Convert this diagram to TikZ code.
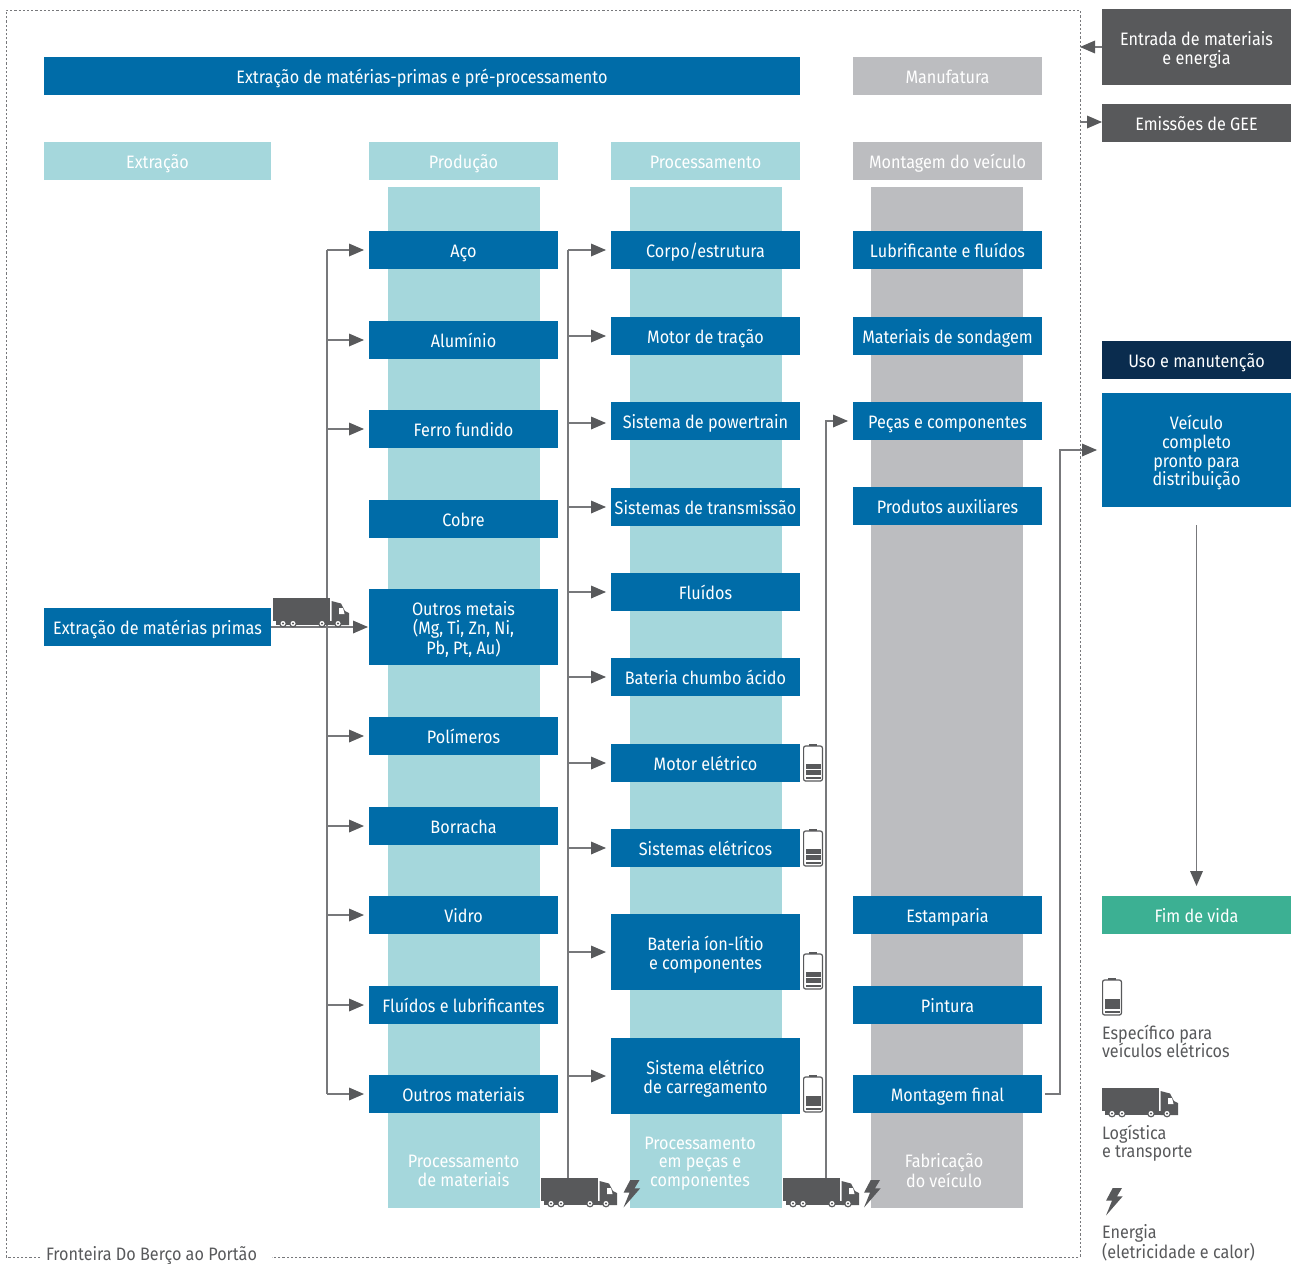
\documentclass[tikz,border=0pt]{standalone}
\usepackage{fontspec}
\setmainfont{Fira Sans}[FakeStretch=0.9]
\usetikzlibrary{arrows.meta}
\definecolor{cblue}{HTML}{006CA8}
\definecolor{cteal}{HTML}{A5D7DC}
\definecolor{cgray}{HTML}{BCBDC0}
\definecolor{cdark}{HTML}{58595B}
\definecolor{cline}{HTML}{77787B}
\definecolor{cnavy}{HTML}{0A2C4E}
\definecolor{cgreen}{HTML}{3CB093}
\tikzset{
  x=1pt,y=-1pt,
  lbl/.style={font=\fontsize{18}{18.7}\selectfont,align=center,inner sep=0pt,outer sep=0pt,text=white},
  blue/.style={lbl,fill=cblue},
  teal/.style={lbl,fill=cteal},
  gray/.style={lbl,fill=cgray},
  dark/.style={lbl,fill=cdark},
  navy/.style={lbl,fill=cnavy},
  green/.style={lbl,fill=cgreen},
  free/.style={lbl},
  legend/.style={lbl,align=left,text=cdark,anchor=north west},
  link/.style={draw=cline,line width=1.2pt},
  tipped/.style={link,-{Triangle[length=15pt,width=13pt,color=cdark,fill=cdark,line width=0pt]}},
  arr/.style={tipped,shorten >=5pt},
  frame/.style={draw=cline,line width=.9pt,dash pattern=on 2.2pt off 2pt},
  pics/truck/.style={code={
    \fill[cdark] (0,0) rectangle (56.5,23);
    \fill[cdark] (58.5,3) -- (68,5.5) -- (72,13) -- (76,15) -- (76,27) -- (58.5,27) -- cycle;
    \fill[white] (66,10) -- (70,10) -- (71.5,16) -- (66,16) -- cycle;
    \fill[cdark] (3,23) rectangle (76,26.5);
    \foreach \wx in {10,20,49,65}{
      \fill[cdark] (\wx,25.5) circle[radius=3.9];
      \fill[white] (\wx,25.5) circle[radius=2.5];
      \fill[cdark] (\wx,25.5) circle[radius=1.2];
    }
  }},
  pics/bolt/.style={code={
    \fill[cdark] (6.7,0) -- (16,0) -- (11,8.3) -- (16.7,8.3) -- (0,27.5) -- (6,12.7) -- (0,12.7) -- cycle;
  }},
  pics/battery/.style={code={
    \fill[cdark] (6,0) rectangle (14,2);
    \draw[cdark,line width=1.2pt,fill=white,rounded corners=2pt] (.6,2) rectangle (19.4,37);
    \fill[cdark] (2.5,21) rectangle (17.5,31);
    \fill[cdark] (2.5,32.8) rectangle (17.5,35);
  }},
  pics/batteryfull/.style={code={
    \fill[cdark] (6,0) rectangle (14,2);
    \draw[cdark,line width=1.2pt,fill=white,rounded corners=2pt] (.6,2) rectangle (19.4,37);
    \fill[cdark] (2.5,20) rectangle (17.5,25);
    \fill[cdark] (2.5,26.2) rectangle (17.5,31);
    \fill[cdark] (2.5,32.5) rectangle (17.5,35);
  }},
}
\newcommand{\stA}{\rule{0pt}{22pt}}
\newcommand{\stB}{\rule[-6.6pt]{0pt}{6.6pt}}
\newcommand{\bx}[7]{\node[#6,minimum width={#4pt-#2pt},minimum height={#5pt-#3pt}] (#1) at ({(#2+#4)/2},{(#3+#5)/2}) {\stA#7\stB};}
\begin{document}
\begin{tikzpicture}
\useasboundingbox (0,0) rectangle (1292,1263);
% frame
\draw[frame] (40,1257) -- (6,1257) -- (6,10) -- (1080,10) -- (1080,1257) -- (272,1257);
\node[lbl,text=cdark,anchor=center] (frontier) at (151.5,1253) {\stA Fronteira Do Berço ao Portão\stB};
% columns
\fill[cteal] (388,187) rectangle (540,1208);
\fill[cteal] (630,187) rectangle (782,1208);
\fill[cgray] (871,187) rectangle (1023,1208);
% headers
\bx{hA}{44}{57}{800}{95}{blue}{Extração de matérias-primas e pré-processamento}
\bx{hB}{853}{57}{1042}{95}{gray}{Manufatura}
\bx{hC}{44}{142}{271}{180}{teal}{Extração}
\bx{hD}{369}{142}{558}{180}{teal}{Produção}
\bx{hE}{611}{142}{800}{180}{teal}{Processamento}
\bx{hF}{853}{142}{1042}{180}{gray}{Montagem do veículo}
% extraction
\bx{ext}{44}{608}{271}{646}{blue}{Extração de matérias primas}
% production
\bx{p1}{369}{231}{558}{269}{blue}{Aço}
\bx{p2}{369}{321}{558}{359}{blue}{Alumínio}
\bx{p3}{369}{410}{558}{448}{blue}{Ferro fundido}
\bx{p4}{369}{500}{558}{538}{blue}{Cobre}
\bx{p5}{369}{589}{558}{665}{blue}{Outros metais\\(Mg, Ti, Zn, Ni,\\Pb, Pt, Au)}
\bx{p6}{369}{717}{558}{755}{blue}{Polímeros}
\bx{p7}{369}{807}{558}{845}{blue}{Borracha}
\bx{p8}{369}{896}{558}{934}{blue}{Vidro}
\bx{p9}{369}{986}{558}{1024}{blue}{Fluídos e lubrificantes}
\bx{p10}{369}{1075}{558}{1113}{blue}{Outros materiais}
% processing
\bx{q1}{611}{231}{800}{269}{blue}{Corpo/estrutura}
\bx{q2}{611}{317}{800}{355}{blue}{Motor de tração}
\bx{q3}{611}{402}{800}{440}{blue}{Sistema de powertrain}
\bx{q4}{611}{488}{800}{526}{blue}{Sistemas de transmissão}
\bx{q5}{611}{573}{800}{611}{blue}{Fluídos}
\bx{q6}{611}{658}{800}{696}{blue}{Bateria chumbo ácido}
\bx{q7}{611}{744}{800}{782}{blue}{Motor elétrico}
\bx{q8}{611}{829}{800}{867}{blue}{Sistemas elétricos}
\bx{q9}{611}{914}{800}{990}{blue}{Bateria íon-lítio\\e componentes}
\bx{q10}{611}{1038}{800}{1114}{blue}{Sistema elétrico\\de carregamento}
% manufacturing
\bx{m1}{853}{231}{1042}{269}{blue}{Lubrificante e fluídos}
\bx{m2}{853}{317}{1042}{355}{blue}{Materiais de sondagem}
\bx{m3}{853}{402}{1042}{440}{blue}{Peças e componentes}
\bx{m4}{853}{487}{1042}{525}{blue}{Produtos auxiliares}
\bx{m5}{853}{896}{1042}{934}{blue}{Estamparia}
\bx{m6}{853}{986}{1042}{1024}{blue}{Pintura}
\bx{m7}{853}{1075}{1042}{1113}{blue}{Montagem final}
% right side
\bx{rA}{1102}{9}{1291}{85}{dark}{Entrada de materiais\\e energia}
\bx{rB}{1102}{104}{1291}{142}{dark}{Emissões de GEE}
\bx{rC}{1102}{341}{1291}{379}{navy}{Uso e manutenção}
\bx{rD}{1102}{393}{1291}{507}{blue}{Veículo\\completo\\pronto para\\distribuição}
\bx{rE}{1102}{896}{1291}{934}{green}{Fim de vida}
% column captions
\node[free] (c1) at (463.5,1169.5) {\stA Processamento\\de materiais\stB};
\node[free] (c2) at (700,1160) {\stA Processamento\\em peças e\\componentes\stB};
\node[free] (c3) at (944,1170) {\stA Fabricação\\do veículo\stB};
% connectors
\coordinate (busA) at (327,250);
\coordinate (busAend) at (327,1094);
\coordinate (busB) at (568,250);
\coordinate (busBend) at (568,1180);
\coordinate (busC) at (826,421);
\coordinate (busCend) at (826,1180);
\coordinate (riserBot) at (1060,1094);
\coordinate (riserTop) at (1060,450);
\coordinate (frameIn) at (1080,47);
\coordinate (frameOut) at (1080,122);
\coordinate (qThree) at (600,423);
\draw[link] (busA) -- (busAend);
\draw[link] (busB) -- (busBend);
\foreach \n in {p1,p2,p3,p6,p7,p8,p9,p10}{\draw[arr] (busA |- \n.west) -- (\n.west);}
\draw[arr,shorten >=1pt] (ext.east) -- (p5.west);
\foreach \n in {q1,q2,q4,q5,q6,q7,q8,q9,q10}{\draw[arr] (busB |- \n.west) -- (\n.west);}
\draw[arr] (busB |- qThree) -- (q3.west |- qThree);
\draw[arr] (busCend) -- (busC) -- (m3.west);
\draw[arr,shorten <=3pt] (m7.east) -- (riserBot) -- (riserTop) -- (rD.west |- riserTop);
\draw[tipped,shorten <=18pt,shorten >=10pt] (rD.south) -- (rE.north);
\draw[tipped] (rA.west |- frameIn) -- (frameIn);
\draw[tipped] (frameOut) -- (rB.west |- frameOut);
% trucks, bolts, batteries
\pic at (273,598) {truck};
\pic at (541,1178) {truck};
\pic at (783,1178) {truck};
\pic at (623.5,1180) {bolt};
\pic at (864,1180) {bolt};
\pic at (803,744) {batteryfull};
\pic at (803,829) {batteryfull};
\pic at (803,952) {batteryfull};
\pic at (803,1075) {battery};
% legend
\pic at (1102,978) {battery};
\node[legend] (l1) at (1102,1017) {\stA Específico para\\veículos elétricos\stB};
\pic at (1102,1088) {truck};
\node[legend] (l2) at (1102,1117) {\stA Logística\\e transporte\stB};
\pic at (1106,1188) {bolt};
\node[legend] (l3) at (1102,1216) {\stA Energia\\(eletricidade e calor)\stB};
\end{tikzpicture}
\end{document}
